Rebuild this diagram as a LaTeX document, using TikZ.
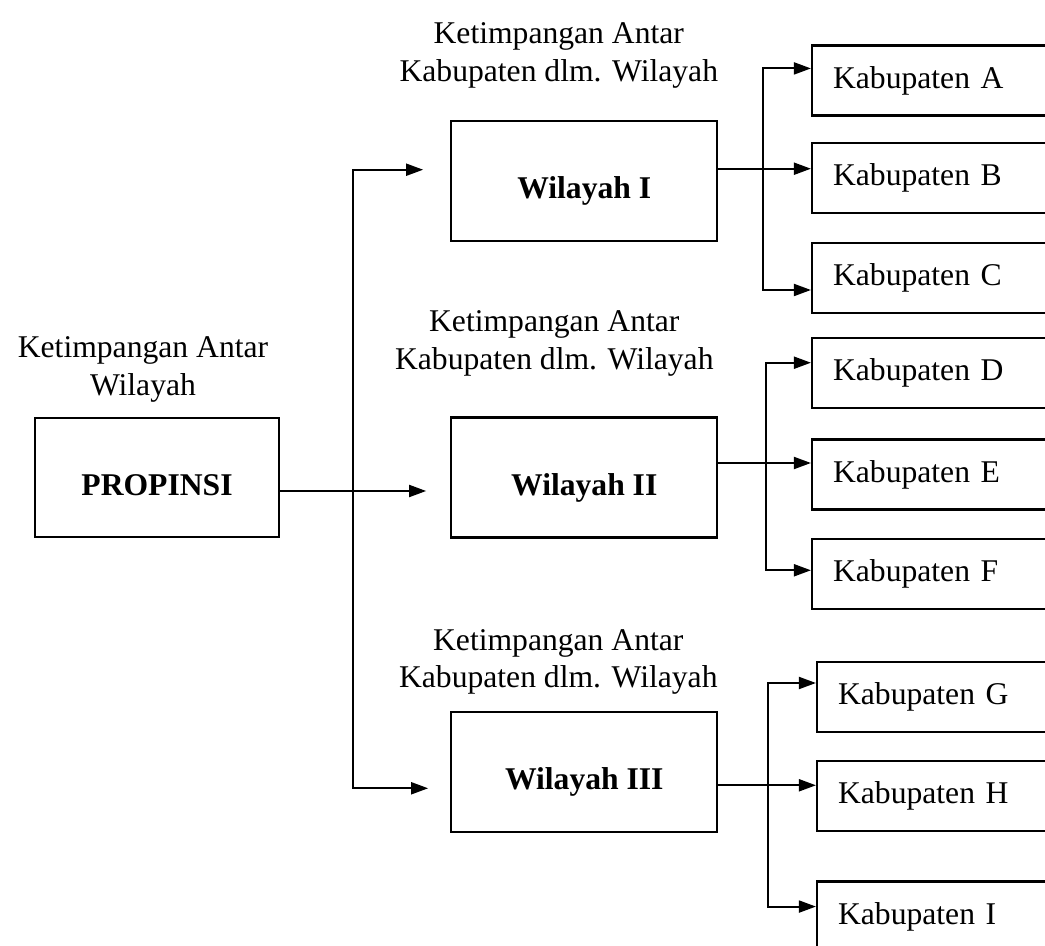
\documentclass[tikz,border=0pt]{standalone}
\usepackage{fontspec}
\setmainfont{Liberation Serif}
\usetikzlibrary{arrows.meta,positioning}
\newcommand{\diagfont}{\fontsize{18}{21.6}\selectfont}

\begin{document}
\begin{tikzpicture}[
    node distance=0.55cm and 1.85cm,
    >={Triangle[length=3.4mm, width=2.4mm]},
    prov/.style={draw, line width=1.3pt, minimum width=4.88cm, minimum height=2.38cm, font=\diagfont\bfseries, text height=24pt, text depth=4pt},
    wil/.style={draw, line width=1.3pt, minimum width=5.32cm, minimum height=2.4cm, font=\diagfont\bfseries, text height=24pt, text depth=4pt},
    kab/.style={draw, line width=1.3pt, minimum height=1.4cm, text width=4.4cm, inner xsep=4.2mm, align=left, font=\diagfont},
    lbl/.style={inner sep=0pt, align=center, font=\diagfont},
    flow/.style={->, line width=1.1pt}
]
\useasboundingbox (0,0) rectangle (20.9,-18.92);

\node[prov] (prop) at (3.14,-9.55) {PROPINSI};
\node[wil, right=3.4cm of prop] (wil2) {Wilayah II};
\node[wil, above=3.48cm of wil2] (wil1) {Wilayah I};
\node[wil, below=3.45cm of wil2] (wil3) {Wilayah III};

\node[lbl, above=0.28cm of prop, xshift=-0.28cm] (lprop) {Ketimpangan Antar\\Wilayah};
\node[lbl, above=0.62cm of wil1, xshift=-0.51cm] (lwil1) {Ketimpangan Antar\\Kabupaten dlm. Wilayah};
\node[lbl, above=0.8cm of wil2, xshift=-0.6cm] (lwil2) {Ketimpangan Antar\\Kabupaten dlm. Wilayah};
\node[lbl, above=0.32cm of wil3, xshift=-0.52cm] (lwil3) {Ketimpangan Antar\\Kabupaten dlm. Wilayah};

\node[kab, right=1.85cm of wil1, yshift=0.07cm] (kabB) {Kabupaten B};
\node[kab, above=0.5cm of kabB] (kabA) {Kabupaten A};
\node[kab, below=0.56cm of kabB] (kabC) {Kabupaten C};

\node[kab, right=1.85cm of wil2, yshift=0.06cm] (kabE) {Kabupaten E};
\node[kab, above=0.58cm of kabE] (kabD) {Kabupaten D};
\node[kab, below=0.54cm of kabE] (kabF) {Kabupaten F};

\node[kab, right=1.95cm of wil3, yshift=-0.48cm] (kabH) {Kabupaten H};
\node[kab, above=0.54cm of kabH] (kabG) {Kabupaten G};
\node[kab, below=0.96cm of kabH] (kabI) {Kabupaten I};

\coordinate (bus) at ([xshift=-19.4mm]wil2.west);
\coordinate (br1) at ([xshift=9mm, yshift=2.5mm]wil1.east);
\coordinate (br2) at ([xshift=9.6mm, yshift=2.9mm]wil2.east);
\coordinate (br3) at ([xshift=10mm, yshift=-2.6mm]wil3.east);

\draw[flow, shorten >=4.8mm] ([yshift=-2.7mm]prop.east) -- ([yshift=-2.7mm]prop.east -| wil2.west);
\draw[flow, <->, shorten <=4.4mm, shorten >=5.4mm] ([yshift=-3.2mm]wil3.west) -| (bus) |- ([yshift=2.3mm]wil1.west);

\draw[flow] ([yshift=2.5mm]wil1.east) -- ([yshift=2.5mm]wil1.east -| kabB.west);
\draw[flow, <->] ([yshift=2.4mm]kabA.west) -| (br1) |- ([yshift=-2.4mm]kabC.west);

\draw[flow] ([yshift=2.9mm]wil2.east) -- ([yshift=2.9mm]wil2.east -| kabE.west);
\draw[flow, <->] ([yshift=2.1mm]kabD.west) -| (br2) |- ([yshift=0.7mm]kabF.west);

\draw[flow] ([yshift=-2.6mm]wil3.east) -- ([yshift=-2.6mm]wil3.east -| kabH.west);
\draw[flow, <->] ([yshift=2.8mm]kabG.west) -| (br3) |- ([yshift=2mm]kabI.west);
\end{tikzpicture}
\end{document}
